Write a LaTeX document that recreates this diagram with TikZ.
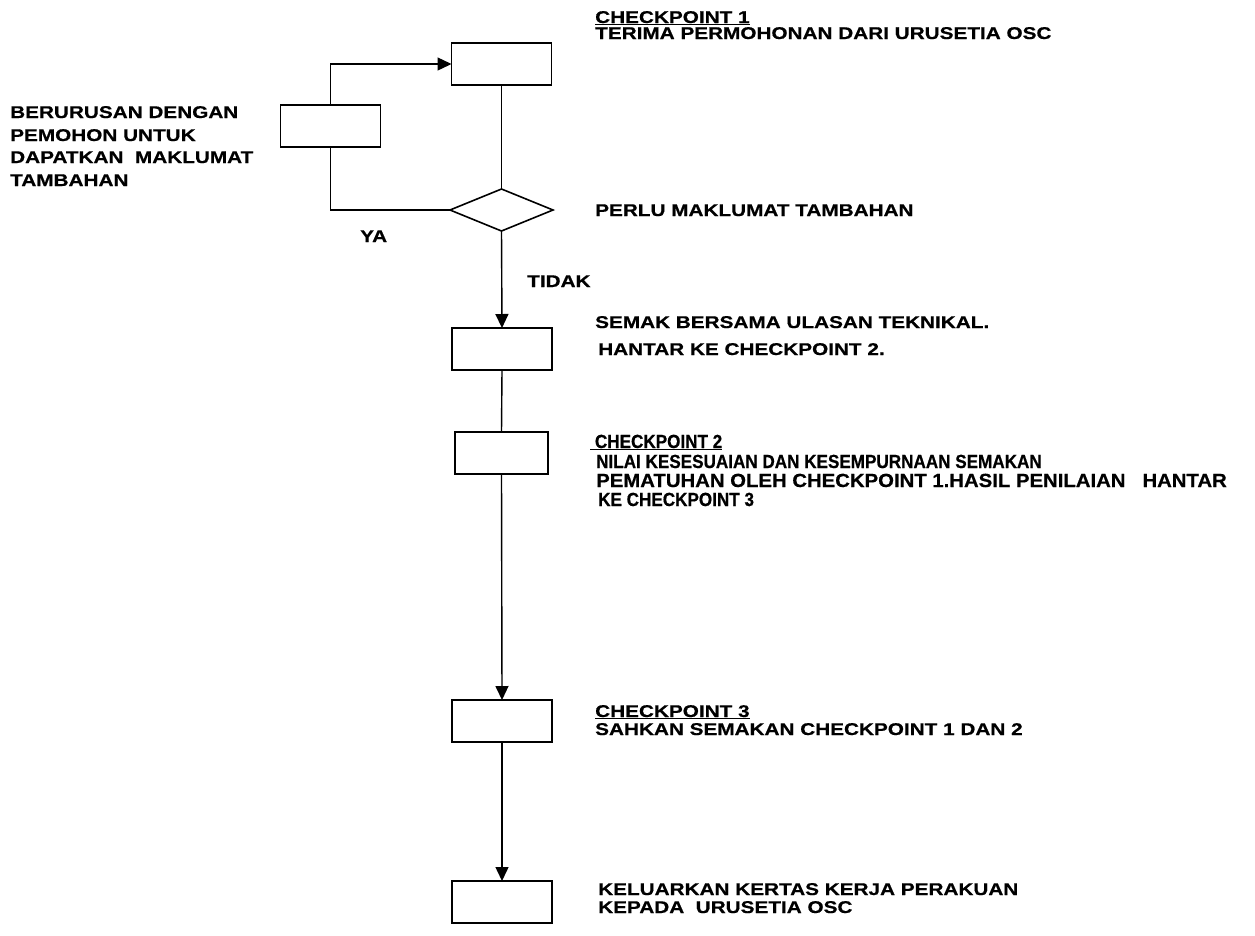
\documentclass[tikz,border=0pt]{standalone}
\usepackage{fontspec}
\setmainfont{Liberation Sans}
\newfontfamily\widefont[FakeStretch=1.22,FakeBold=0.6]{Liberation Sans}
\newfontfamily\narrowfont[FakeStretch=0.9,FakeBold=0.6]{Liberation Sans}
\newfontfamily\midfont[FakeStretch=1.07,FakeBold=0.6]{Liberation Sans}
\usetikzlibrary{arrows.meta,shapes.geometric}
\begin{document}
\begin{tikzpicture}[x=1pt,y=-1pt,
  stepbox/.style={draw,line width=1.6pt,minimum width=100pt,minimum height=42pt,inner sep=0pt,outer sep=0pt},
  decision/.style={draw,diamond,line width=1.6pt,minimum width=103pt,minimum height=42pt,inner sep=0pt,outer sep=0pt},
  link/.style={line width=1.4pt},
  flow/.style={link,-{Triangle[length=14pt,width=13pt]}},
  lbl/.style={anchor=base west,inner sep=0pt,font=\fontsize{17}{18}\selectfont\widefont\bfseries},
  nlbl/.style={anchor=base west,inner sep=0pt,font=\fontsize{19}{19}\selectfont\narrowfont\bfseries},
  mlbl/.style={nlbl,font=\fontsize{19}{19}\selectfont\midfont\bfseries}
]
\useasboundingbox (0,0) rectangle (1255,935);

% process boxes and the decision
\node[stepbox] (b1) at (501.5,64) {};
\node[stepbox] (bl) at (330.5,126) {};
\node[decision] (dec) at (501.5,210) {};
\node[stepbox] (b2) at (502,349) {};
\node[stepbox,minimum width=93pt] (b3) at (501.5,453) {};
\node[stepbox] (b4) at (502,721) {};
\node[stepbox] (b5) at (502,902) {};

% main line
\draw[link] (b1.south) -- (dec.north);
\draw[flow] (dec.south) -- (b2.north);
\draw[link] (b2.south) -- (b3.north);
\draw[flow] (b3.south) -- (b4.north);
\draw[flow] (b4.south) -- (b5.north);

% loop back for more information
\coordinate (lb) at (bl.south |- dec.west);
\coordinate (lt) at (bl.north |- b1.west);
\draw[link] (dec.west) -- (lb) -- (bl.south);
\draw[flow] (bl.north) -- (lt) -- (b1.west);

% labels
\node[lbl] (c1h) at (595,23) {\underline{CHECKPOINT 1}};
\node[lbl] (c1t) at (595,39) {TERIMA PERMOHONAN DARI URUSETIA OSC};

\node[lbl] (m1) at (10,118) {BERURUSAN DENGAN};
\node[lbl] (m2) at (10,141) {PEMOHON UNTUK};
\node[lbl] (m3) at (10,163) {DAPATKAN\ \ MAKLUMAT};
\node[lbl] (m4) at (10,186) {TAMBAHAN};

\node[lbl] (q) at (595,216) {PERLU MAKLUMAT TAMBAHAN};
\node[lbl] (ya) at (360,242) {YA};
\node[lbl] (no) at (527,287) {TIDAK};

\node[lbl] (s1) at (595,328) {SEMAK BERSAMA ULASAN TEKNIKAL.};
\node[lbl] (s2) at (598,355) {HANTAR KE CHECKPOINT 2.};

\node[nlbl] (c2h) at (590,448) {\underline{\ CHECKPOINT 2}};
\node[nlbl] (c2a) at (596,468) {NILAI KESESUAIAN DAN KESEMPURNAAN SEMAKAN};
\node[mlbl] (c2b) at (596,487) {PEMATUHAN OLEH CHECKPOINT 1.HASIL PENILAIAN\ \ \ HANTAR};
\node[nlbl] (c2c) at (598,506) {KE CHECKPOINT 3};

\node[lbl] (c3h) at (595,717) {\underline{CHECKPOINT 3}};
\node[lbl] (c3t) at (595,735) {SAHKAN SEMAKAN CHECKPOINT 1 DAN 2};

\node[lbl] (k1) at (598,895) {KELUARKAN KERTAS KERJA PERAKUAN};
\node[lbl] (k2) at (598,913) {KEPADA\ \ URUSETIA OSC};
\end{tikzpicture}
\end{document}
